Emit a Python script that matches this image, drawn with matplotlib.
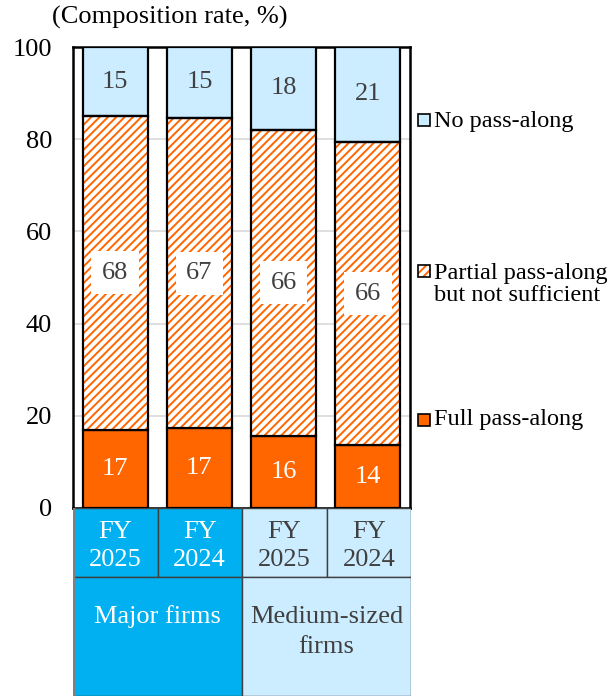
import matplotlib
matplotlib.use("Agg")
import matplotlib.pyplot as plt
from matplotlib.patches import Rectangle

plt.rcParams['font.family'] = ['Liberation Serif', 'DejaVu Serif']
plt.rcParams['hatch.linewidth'] = 1.4

# Composition of pass-along of cost increases (%)
periods = ["FY\n2025", "FY\n2024", "FY\n2025", "FY\n2024"]
groups = ["Major firms", "Medium-sized\nfirms"]
full_pass = [17.0, 17.3, 15.7, 13.6]
partial_pass = [68.0, 67.3, 66.3, 65.8]
no_pass = [15.0, 15.4, 18.0, 20.6]
series_names = ["No pass-along", "Partial pass-along\nbut not sufficient", "Full pass-along"]
yticks = [0, 20, 40, 60, 80, 100]

ORANGE = "#FF6600"
LIGHT = "#CCECFF"
BLUE = "#00B0F0"
DARK_TXT = "#404040"

W, H = 608, 696
fig = plt.figure(figsize=(W / 100, H / 100), dpi=100)


def fx(px):
    return px / W


def fy(py):
    return 1 - py / H


left, right, top, bottom = 73, 410, 47, 508
ax = fig.add_axes([fx(left), fy(bottom), fx(right) - fx(left), fy(top) - fy(bottom)])

x = list(range(len(periods)))
bw = 0.77
bottoms_partial = full_pass
bottoms_no = [a + b for a, b in zip(full_pass, partial_pass)]

ax.bar(x, full_pass, width=bw, color=ORANGE, edgecolor="black", linewidth=1.6, zorder=3)
ax.bar(x, partial_pass, width=bw, bottom=bottoms_partial, color="white",
       edgecolor=ORANGE, linewidth=0, hatch="////", zorder=3)
ax.bar(x, partial_pass, width=bw, bottom=bottoms_partial, color="none",
       edgecolor="black", linewidth=1.6, zorder=4)
ax.bar(x, no_pass, width=bw, bottom=bottoms_no, color=LIGHT, edgecolor="black",
       linewidth=1.6, zorder=3)

for i in x:
    ax.text(i, full_pass[i] / 2, f"{full_pass[i]:.0f}", ha="center", va="center",
            color="white", fontsize=19, zorder=5)
    ax.text(i, bottoms_partial[i] + partial_pass[i] / 2, f"{partial_pass[i]:.0f}",
            ha="center", va="center", color=DARK_TXT, fontsize=19, zorder=5,
            bbox=dict(boxstyle="square,pad=0.4", facecolor="white", edgecolor="none"))
    ax.text(i, bottoms_no[i] + no_pass[i] / 2, f"{no_pass[i]:.0f}", ha="center",
            va="center", color=DARK_TXT, fontsize=19, zorder=5)

ax.set_xlim(-0.5, len(periods) - 0.5)
ax.set_ylim(0, 100)
ax.set_yticks(yticks)
ax.set_yticklabels([str(t) for t in yticks], fontsize=19)
ax.tick_params(axis="y", length=0, pad=15)
ax.set_xticks([])
ax.yaxis.grid(True, color="#D9D9D9", linewidth=1.2, zorder=0)
ax.set_axisbelow(True)
for s in ax.spines.values():
    s.set_linewidth(1.8)
    s.set_color("black")

fig.text(fx(52), fy(17), "(Composition rate, %)", fontsize=19, ha="left", va="center")

# Category table under the bars
tab = fig.add_axes([fx(left), 0, fx(right + 1) - fx(left), fy(bottom)])
tab.set_xlim(-0.5, len(periods) - 0.5)
tab.set_ylim(H - bottom, 0)
tab.axis("off")
row1 = 577 - bottom
row_end = H - bottom
cell_colors = [BLUE, BLUE, LIGHT, LIGHT]
text_colors = ["white", "white", DARK_TXT, DARK_TXT]
for i in x:
    tab.add_patch(Rectangle((i - 0.5, 0), 1, row1, facecolor=cell_colors[i],
                            edgecolor="#404040", linewidth=1.0))
    top_line, bottom_line = periods[i].split("\n")
    tab.text(i, 532 - bottom, top_line, ha="center", va="center",
             color=text_colors[i], fontsize=19)
    tab.text(i, 560 - bottom, bottom_line, ha="center", va="center",
             color=text_colors[i], fontsize=19)
for g in range(2):
    tab.add_patch(Rectangle((2 * g - 0.5, row1), 2, row_end - row1,
                            facecolor=[BLUE, LIGHT][g], edgecolor="#404040", linewidth=1.0))
    for j, line in enumerate(groups[g].split("\n")):
        tab.text(2 * g + 0.5, 617 - bottom + 30 * j, line, ha="center", va="center",
                 color=["white", DARK_TXT][g], fontsize=19)
tab.plot([-0.5, -0.5], [0, row_end], color="#808080", linewidth=2.5)

# Legend
leg_y = [120, 271, 420]
text_y = [122, 284.5, 420]
fills = [LIGHT, "white", ORANGE]
for k, name in enumerate(series_names):
    y0 = leg_y[k]
    box = (fx(418), fy(y0 + 6))
    bw_f, bh_f = fx(12), fy(y0 - 6) - fy(y0 + 6)
    if k == 1:
        fig.patches.append(Rectangle(box, bw_f, bh_f, transform=fig.transFigure,
                                     facecolor="white", edgecolor=ORANGE, linewidth=0,
                                     hatch="////"))
    else:
        fig.patches.append(Rectangle(box, bw_f, bh_f, transform=fig.transFigure,
                                     facecolor=fills[k], edgecolor="none"))
    fig.patches.append(Rectangle(box, bw_f, bh_f, transform=fig.transFigure,
                                 facecolor="none", edgecolor="black", linewidth=1.2))
    fig.text(fx(434), fy(text_y[k]), name, fontsize=17.5, ha="left", va="center",
             linespacing=1.05)

fig.savefig("out.png", dpi=100)
